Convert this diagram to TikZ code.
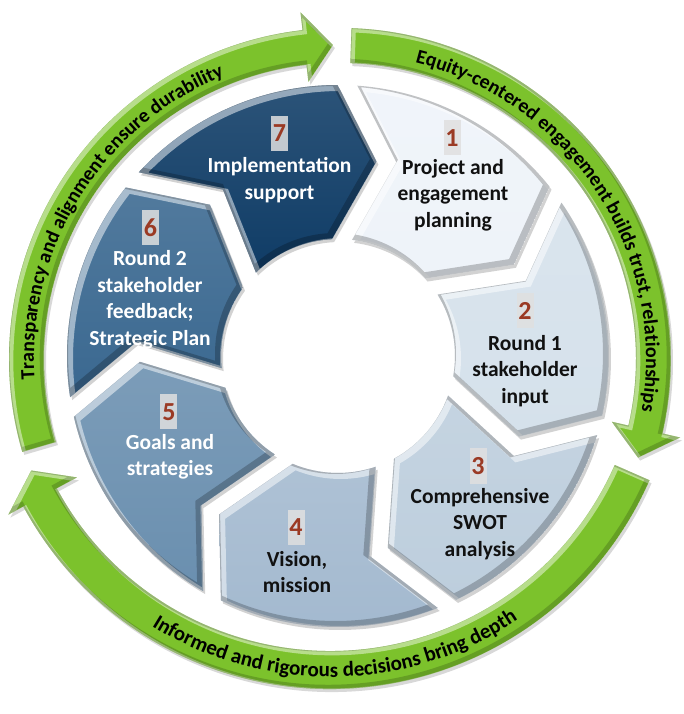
\documentclass[tikz,border=0pt]{standalone}
\usepackage{fontspec}
\setmainfont{Carlito}
\usetikzlibrary{shadows,decorations.text}
\definecolor{s1}{HTML}{EEF3F9}
\definecolor{s2}{HTML}{D5E1EB}
\definecolor{s3}{HTML}{BDCEDD}
\definecolor{s4}{HTML}{A3B9CF}
\definecolor{s5}{HTML}{6A8FAF}
\definecolor{s6}{HTML}{3A6890}
\definecolor{s7}{HTML}{0F3C66}
\definecolor{numred}{HTML}{9B3A24}
\definecolor{grn}{HTML}{7CC22C}
\definecolor{darktext}{HTML}{111111}
\newcommand\segpath{({\ts-2.115}:271) arc[start angle={\ts-2.115},end angle={\te+2.115},radius=271] -- ({200*cos(\te-12)-10*sin(\te)},{200*sin(\te-12)+10*cos(\te)}) -- ({\te+4.9}:117) arc[start angle={\te+4.9},end angle={\ts-4.9},radius=117] -- ({200*cos(\ts-12)+10*sin(\ts)},{200*sin(\ts-12)-10*cos(\ts)}) -- cycle}
\newcommand\arrowApath{(88:331) arc[start angle=88,end angle=-13,radius=331] -- (-13:349) -- (-18.3:314) -- (-13:279) -- (-13:296) arc[start angle=-13,end angle=88,radius=296] -- cycle}
\newcommand\arrowCpath{(196.3:331) arc[start angle=196.3,end angle=96.5,radius=331] -- (96.5:349) -- (91.3:314) -- (96.5:279) -- (96.5:296) arc[start angle=96.5,end angle=196.3,radius=296] -- cycle}
\newcommand\arrowBpath{(-23.7:349) arc[start angle=-23.7,end angle=-151.5,radius=349] -- (-151.5:366) -- (-156.4:326) -- (-151.5:288) -- (-151.5:311) arc[start angle=-151.5,end angle=-23.7,radius=311] -- cycle}
\tikzset{
  segtext/.style={align=center, font=\bfseries\fontsize{21.5}{26.5}\selectfont, inner sep=0pt},
  numbox/.style={fill=white!88!black, fill opacity=0.85, text opacity=1, text=numred,
    font=\bfseries\fontsize{26}{30}\selectfont, minimum width=17pt, minimum height=35pt, inner sep=0pt},
  segshadow/.style={drop shadow={shadow xshift=2pt, shadow yshift=-3pt, opacity=0.35}},
  greenarrow/.style={fill=grn, drop shadow={shadow xshift=2pt, shadow yshift=-3pt, opacity=0.3}},
  lightbevel/.style={white, opacity=0.45, line width=5pt, shift={(1.8,-1.8)}},
  darkbevel/.style={black, opacity=0.18, line width=5pt, shift={(-1.8,1.8)}},
  bandtext/.style={decorate, decoration={text along path, text align=center, text={#1}}}
}
\begin{document}
\begin{tikzpicture}[x=1pt,y=1pt]
\useasboundingbox[fill=white] (-338,-358) rectangle (345,356);

% green circular arrows
\begin{scope}[shift={(2,-3)}]
  \path[greenarrow] \arrowApath;
  \begin{scope}
    \clip \arrowApath;
    \draw[lightbevel] \arrowApath;
    \draw[darkbevel] \arrowApath;
  \end{scope}
  \path[greenarrow] \arrowCpath;
  \begin{scope}
    \clip \arrowCpath;
    \draw[lightbevel] \arrowCpath;
    \draw[darkbevel] \arrowCpath;
  \end{scope}
  \path[bandtext={|\bfseries\fontsize{20}{24}\selectfont|Equity-centered engagement builds trust, relationships}]
    (88:306) arc[start angle=88,end angle=-22,radius=306];
  \path[bandtext={|\bfseries\fontsize{20}{24}\selectfont|Transparency and alignment ensure durability}]
    (203:306) arc[start angle=203,end angle=93,radius=306];
\end{scope}
\begin{scope}[shift={(-8,16)}]
  \path[greenarrow] \arrowBpath;
  \begin{scope}
    \clip \arrowBpath;
    \draw[lightbevel] \arrowBpath;
    \draw[darkbevel] \arrowBpath;
  \end{scope}
  \path[bandtext={|\bfseries\fontsize{21}{25}\selectfont|Informed and rigorous decisions bring depth}]
    (-144:337) arc[start angle=-144,end angle=-34,radius=337];
\end{scope}

% wheel segments
\foreach \i in {1,...,7} {
  \pgfmathsetmacro\ts{88-(\i-1)*51.428571}
  \pgfmathsetmacro\te{\ts-51.428571}
  \path[segshadow, top color=s\i!88!white, bottom color=s\i] \segpath;
  \begin{scope}
    \clip \segpath;
    \draw[white, opacity=0.5, line width=7pt, shift={(2.5,-2.5)}] \segpath;
    \draw[black, opacity=0.22, line width=7pt, shift={(-2.5,2.5)}] \segpath;
  \end{scope}
}

% numbers
\node[numbox] (n1) at (114,218) {1};
\node[numbox] (n2) at (187,45) {2};
\node[numbox] (n3) at (140,-110) {3};
\node[numbox] (n4) at (-42,-171) {4};
\node[numbox] (n5) at (-169,-56) {5};
\node[numbox] (n6) at (-187.5,128.5) {6};
\node[numbox] (n7) at (-58.5,222.5) {7};

% labels
\node[segtext, text=darktext] (t1) at (115,161) {Project and\\engagement\\planning};
\node[segtext, text=darktext] (t2) at (187,-15) {Round 1\\stakeholder\\input};
\node[segtext, text=darktext] (t3) at (142,-168) {Comprehensive\\SWOT\\analysis};
\node[segtext, text=darktext] (t4) at (-41,-216) {Vision,\\mission};
\node[segtext, text=white] (t5) at (-168,-101) {Goals and\\strategies};
\node[segtext, text=white] (t6) at (-188,56) {Round 2\\stakeholder\\feedback;\\Strategic Plan};
\node[segtext, text=white] (t7) at (-58.5,176) {Implementation\\support};
\end{tikzpicture}
\end{document}
